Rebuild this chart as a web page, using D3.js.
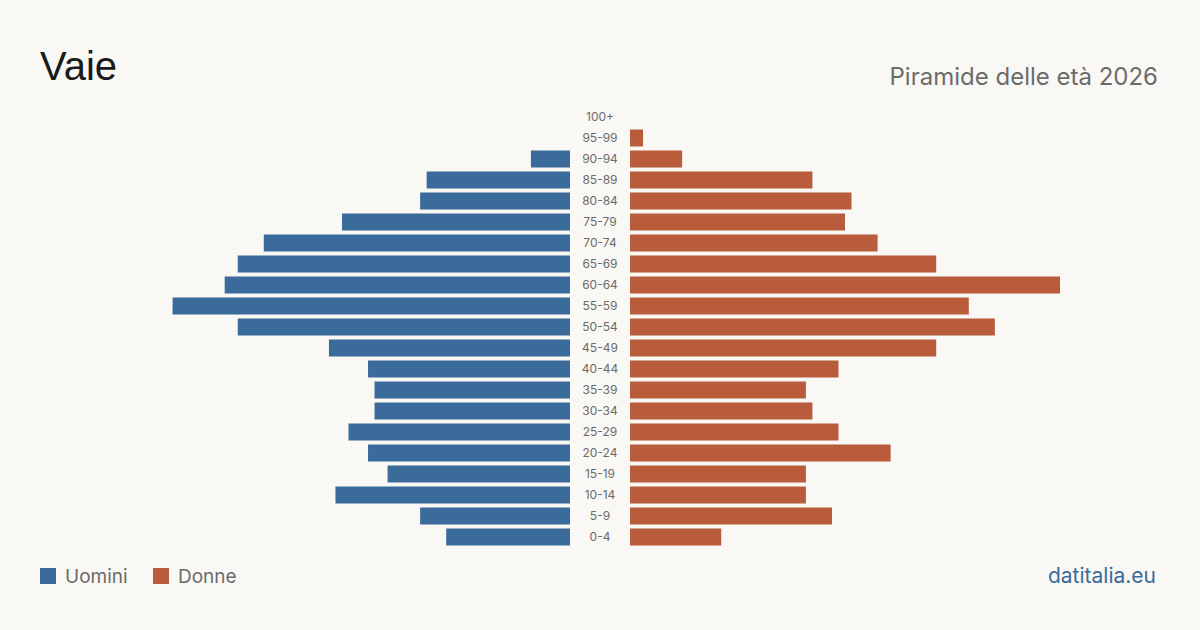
<!DOCTYPE html>
<html>
<head>
<meta charset="utf-8">
<script src="https://cdn.jsdelivr.net/npm/d3@7"></script>
<style>
  html, body { margin: 0; padding: 0; background: #f9f8f4; }
  svg { display: block; }
</style>
</head>
<body>
<svg id="chart" width="1200" height="630"></svg>
<script>
const ageGroups = ["100+","95-99","90-94","85-89","80-84","75-79","70-74","65-69","60-64","55-59","50-54","45-49","40-44","35-39","30-34","25-29","20-24","15-19","10-14","5-9","0-4"];
const men   = [0, 0, 6, 22, 23, 35, 47, 51, 53, 61, 51, 37, 31, 30, 30, 34, 31, 28, 36, 23, 19];
const women = [0, 2, 8, 28, 34, 33, 38, 47, 66, 52, 56, 47, 32, 27, 28, 32, 40, 27, 27, 31, 14];
const title = "Vaie";
const subtitle = "Piramide delle età 2026";
const legendLabels = ["Uomini", "Donne"];
const source = "datitalia.eu";

const colMen = "#3b6b9b", colWomen = "#b95c3c";
const svg = d3.select("#chart");
svg.append("rect").attr("width", 1200).attr("height", 630).attr("fill", "#f9f8f4");

const y = d3.scaleBand().domain(ageGroups).range([106.5, 547.5]).paddingInner(0.19).paddingOuter(0.095);
const maxV = d3.max(men.concat(women));
const x = d3.scaleLinear().domain([0, maxV]).range([0, 430]);
const leftEdge = 570, rightEdge = 630;

svg.append("g").selectAll("rect").data(ageGroups).join("rect")
  .attr("x", (d, i) => leftEdge - x(men[i]))
  .attr("y", d => y(d))
  .attr("width", (d, i) => x(men[i]))
  .attr("height", y.bandwidth())
  .attr("fill", colMen);

svg.append("g").selectAll("rect").data(ageGroups).join("rect")
  .attr("x", rightEdge)
  .attr("y", d => y(d))
  .attr("width", (d, i) => x(women[i]))
  .attr("height", y.bandwidth())
  .attr("fill", colWomen);

svg.append("g").selectAll("text").data(ageGroups).join("text")
  .attr("x", 600)
  .attr("y", d => y(d) + y.bandwidth() / 2)
  .attr("dy", "0.35em")
  .attr("text-anchor", "middle")
  .attr("font-family", "Inter, sans-serif")
  .attr("font-size", 12)
  .attr("fill", "#6b6b6b")
  .text(d => d);

svg.append("text").attr("x", 40).attr("y", 80)
  .attr("font-family", "'Liberation Sans', Arial, sans-serif")
  .attr("font-size", 40).attr("fill", "#1a1a1a").text(title);

svg.append("text").attr("x", 1158).attr("y", 85).attr("text-anchor", "end")
  .attr("font-family", "Inter, sans-serif")
  .attr("font-size", 24).attr("fill", "#6b6b6b").text(subtitle);

const legend = svg.append("g");
const legX = [40, 153];
legendLabels.forEach((lab, i) => {
  legend.append("rect").attr("x", legX[i]).attr("y", 568).attr("width", 16).attr("height", 16)
    .attr("fill", i === 0 ? colMen : colWomen);
  legend.append("text").attr("x", legX[i] + 25).attr("y", 583)
    .attr("font-family", "Inter, sans-serif").attr("font-size", 19)
    .attr("fill", "#6b6b6b").text(lab);
});

svg.append("text").attr("x", 1156).attr("y", 583).attr("text-anchor", "end")
  .attr("font-family", "Inter, sans-serif").attr("font-size", 21)
  .attr("fill", "#3b6b9b").text(source);
</script>
</body>
</html>
